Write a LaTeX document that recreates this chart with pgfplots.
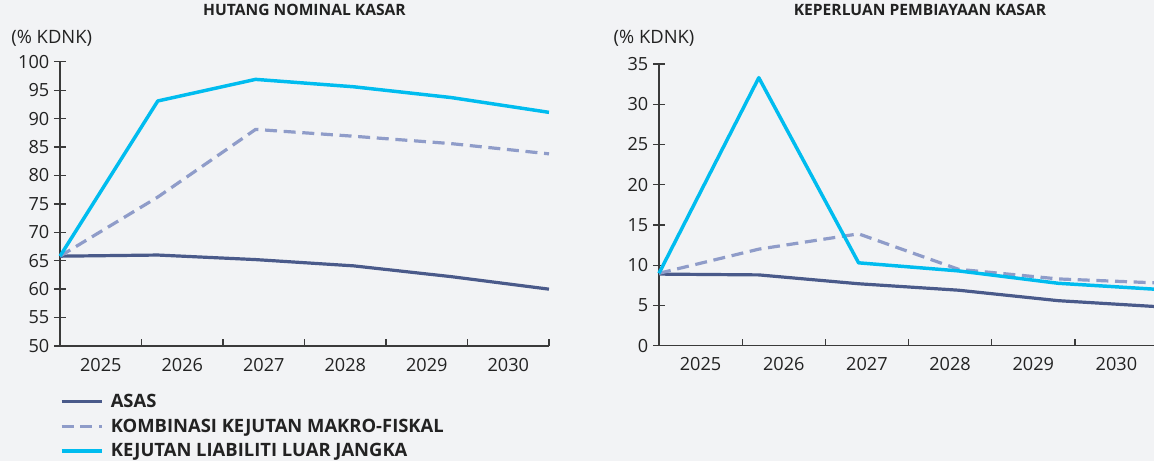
\documentclass[border=0pt]{standalone}
\usepackage{fontspec}
\setmainfont{Open Sans}
\usepackage{pgfplots}
\pgfplotsset{compat=1.18}
\definecolor{bg}{HTML}{F2F3F5}
\definecolor{asas}{HTML}{4A5A8A}
\definecolor{komb}{HTML}{8F9CC9}
\definecolor{kej}{HTML}{00BCEF}
\definecolor{axc}{HTML}{3A3A3A}
\definecolor{txt}{HTML}{222222}
\pgfplotsset{
  base/.style={
    anchor=south west, scale only axis,
    xmin=0, xmax=6,
    axis x line*=bottom, axis y line*=left,
    axis line style={axc, line width=1.1pt, -},
    every outer x axis line/.append style={-},
    every outer y axis line/.append style={-},
    xtick={0.5,1.5,...,5.5},
    xticklabels={2025,2026,2027,2028,2029,2030},
    major x tick style={draw=none},
    minor xtick={0,1,...,6},
    minor tick length=5pt,
    minor x tick style={axc, line width=1pt, yshift=2.5pt},
    major tick length=9pt,
    tick align=center,
    major y tick style={axc, line width=1pt},
    tick label style={font=\fontsize{13.6}{15}\selectfont, text=txt},
    /pgf/number format/assume math mode=true,
    xticklabel style={yshift=-1pt},
    title style={font=\bfseries\fontsize{11.7}{14}\selectfont, text=txt, anchor=center},
    clip=false,
  },
  asasst/.style={asas, line width=2.4pt, line join=round},
  kombst/.style={komb, line width=2.4pt, dash pattern=on 9pt off 5pt, line join=round},
  kejst/.style={kej, line width=2.6pt, line join=round},
}
\begin{document}
\begin{tikzpicture}
\fill[bg] (0,0) rectangle (865.5pt,-345.75pt);
\useasboundingbox (0,0) rectangle (865.5pt,-345.75pt);
\begin{axis}[base,
  at={(45pt,-259.5pt)}, width=366.75pt, height=213.2pt,
  ymin=50, ymax=100, ytick={50,55,...,100},
  title={HUTANG NOMINAL KASAR},
  title style={at={(axis description cs:0.5,1)}, yshift=33pt},
  legend style={at={(axis description cs:0,-0.16)}, anchor=north west,
    draw=none, fill=none, inner sep=0pt, outer sep=0pt,
    row sep=3pt, column sep=3.5pt,
    font=\bfseries\fontsize{13.8}{15}\selectfont, text=txt},
  legend cell align=left,
  legend image code/.code={\draw[#1] (0pt,0pt) -- (30pt,0pt);},
]
\addplot[asasst] coordinates {(0,65.8) (1.2,66.0) (2.4,65.2) (3.6,64.1) (4.8,62.2) (6,60.0)};
\addlegendentry{ASAS}
\addplot[kombst] coordinates {(0,65.8) (1.2,76.2) (2.4,88.1) (3.6,86.9) (4.8,85.6) (6,83.8)};
\addlegendentry{KOMBINASI KEJUTAN MAKRO-FISKAL}
\addplot[kejst] coordinates {(0,65.8) (1.2,93.1) (2.4,96.9) (3.6,95.6) (4.8,93.7) (6,91.1)};
\addlegendentry{KEJUTAN LIABILITI LUAR JANGKA}
\node[anchor=west, font=\fontsize{13.8}{15}\selectfont, text=txt] at (axis description cs:0,1) [xshift=-40pt, yshift=17.8pt] {(\% KDNK)};
\end{axis}
\begin{axis}[base,
  at={(494.25pt,-259.3pt)}, width=374.25pt, height=211.3pt,
  ymin=0, ymax=35, ytick={0,5,...,35},
  title={KEPERLUAN PEMBIAYAAN KASAR},
  title style={at={(axis description cs:0.5,1)}, yshift=34.5pt, xshift=8.6pt},
]
\addplot[asasst] coordinates {(0,8.9) (1.2,8.8) (2.4,7.7) (3.6,6.9) (4.8,5.6) (6,4.85)};
\addplot[kombst] coordinates {(0,9.0) (1.2,12.0) (2.4,13.9) (3.6,9.5) (4.8,8.3) (6,7.8)};
\addplot[kejst] coordinates {(0,9.0) (1.2,33.3) (2.4,10.3) (3.6,9.3) (4.8,7.76) (6,7.0)};
\node[anchor=west, font=\fontsize{13.8}{15}\selectfont, text=txt] at (axis description cs:0,1) [xshift=-37.5pt, yshift=19pt] {(\% KDNK)};
\end{axis}
\end{tikzpicture}
\end{document}
